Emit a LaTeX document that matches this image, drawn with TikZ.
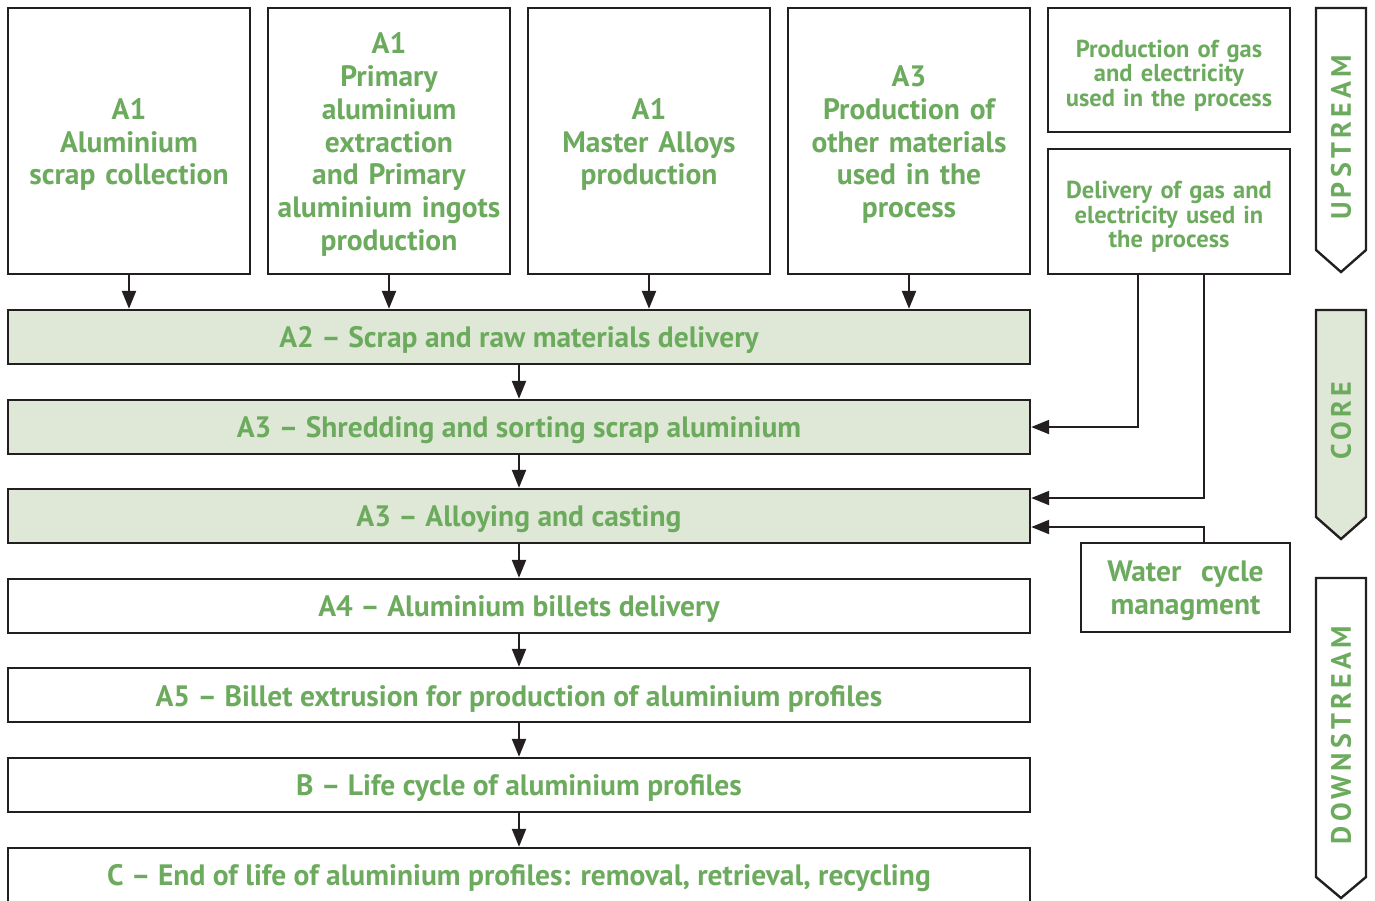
\documentclass[tikz,border=0pt]{standalone}
\usepackage{fontspec}
\setmainfont{PT Sans}
\usetikzlibrary{arrows.meta}
\definecolor{gtext}{RGB}{108,171,94}
\definecolor{gfill}{RGB}{223,232,214}
\definecolor{ink}{RGB}{35,31,32}
\begin{document}
\begin{tikzpicture}[x=1pt,y=-1pt,
  box/.style={draw=ink,line width=2.4pt,text=gtext,align=center,inner sep=0pt,
    font=\bfseries\fontsize{29.5}{32.8}\selectfont,text height=28pt},
  topbox/.style={box,minimum width=242pt,minimum height=266pt,text width=238pt},
  sidebox/.style={box,minimum width=242pt,minimum height=124pt,text width=238pt,
    font=\bfseries\fontsize{24.5}{24.5}\selectfont},
  bar/.style={box,minimum width=1022pt,minimum height=54pt},
  corebar/.style={bar,fill=gfill},
  arr/.style={draw=ink,line width=2.2pt,-{Triangle[length=18pt,width=14pt]}},
  pen/.style={draw=ink,line width=2.4pt,line join=miter},
  pentext/.style={text=gtext,rotate=90,font=\bfseries\fontsize{28}{28}\selectfont\addfontfeature{LetterSpace=15}}]
\useasboundingbox (0,0) rectangle (1375,900);
\clip (0,0) rectangle (1375,900);
% top boxes
\node[topbox] (b1) at (129,141) {A1\\Aluminium\\scrap collection};
\node[topbox] (b2) at (389,141) {A1\\Primary\\aluminium\\extraction\\and Primary\\aluminium ingots\\production};
\node[topbox] (b3) at (649,141) {A1\\Master Alloys\\production};
\node[topbox] (b4) at (909,141) {A3\\Production of\\other materials\\used in the\\process};
\node[sidebox] (prod) at (1169,70) {Production of gas\\and electricity\\used in the process};
\node[sidebox,minimum height=125pt] (deliv) at (1169,211.5) {Delivery of gas and\\electricity used in\\the process};
% bars
\node[corebar] (a2) at (519,337) {A2 -- Scrap and raw materials delivery};
\node[corebar] (a3s) at (519,427) {A3 -- Shredding and sorting scrap aluminium};
\node[corebar] (a3a) at (519,516) {A3 -- Alloying and casting};
\node[bar] (a4) at (519,606) {A4 -- Aluminium billets delivery};
\node[bar] (a5) at (519,695) {A5 -- Billet extrusion for production of aluminium profiles};
\node[bar] (bb) at (519,785) {B -- Life cycle of aluminium profiles};
\node[bar] (cc) at (519,875) {C -- End of life of aluminium profiles: removal, retrieval, recycling};
\node[box,minimum width=209pt,minimum height=89pt,text width=205pt] (water) at (1185.5,587.5) {Water\ \ cycle\\managment};
% arrows
\foreach \b in {b1,b2,b3,b4} \draw[arr] (\b.south) -- (\b.south |- a2.north);
\draw[arr] (a2) -- (a3s);
\draw[arr] (a3s) -- (a3a);
\draw[arr] (a3a) -- (a4);
\draw[arr] (a4) -- (a5);
\draw[arr] (a5) -- (bb);
\draw[arr] (bb) -- (cc);
\draw[arr] ([xshift=-31pt]deliv.south) |- (a3s.east);
\draw[arr] ([xshift=35pt]deliv.south) |- ([yshift=18pt]a3a.east);
\draw[arr] ([xshift=18.5pt]water.north) |- ([yshift=-11pt]a3a.east);
% pennants
\draw[pen] (1316,8) -- (1366,8) -- (1366,250) -- (1341,272) -- (1316,250) -- cycle;
\node[pentext] (up) at (1341,137.5) {UPSTREAM};
\draw[pen,fill=gfill] (1316,310) -- (1366,310) -- (1366,517) -- (1341,539) -- (1316,517) -- cycle;
\node[pentext] (core) at (1341,421) {CORE};
\draw[pen] (1316,578) -- (1366,578) -- (1366,877) -- (1341,898) -- (1316,877) -- cycle;
\node[pentext] (down) at (1341,735) {DOWNSTREAM};
\end{tikzpicture}
\end{document}
